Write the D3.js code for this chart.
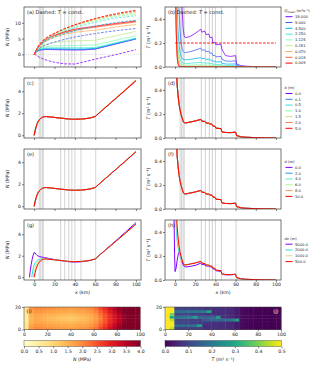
<!DOCTYPE html>
<html><head><meta charset="utf-8">
<script src="https://cdn.jsdelivr.net/npm/d3@7"></script>
<style>body{margin:0;background:#fff}</style>
</head><body><svg id="c" width="320" height="370" xmlns="http://www.w3.org/2000/svg"></svg>
<script>
// ---------------- DATA ----------------
const grayLinesKm = [5, 6.5, 8, 9, 26, 30, 34, 37, 40, 46, 60.5];
const xTicks = [0, 20, 40, 60, 80, 100];
const nTicksA = [0, 5, 10];
const nTicksC = [0, 2, 4];
const tTicks = [0.0, 0.2, 0.4];
const heatYTicks = [0, 20];
const cbTicksN = [0, 0.5, 1, 1.5, 2, 2.5, 3, 3.5, 4];
const cbTicksT = [0, 0.1, 0.2, 0.3, 0.4, 0.5];

// panel (a): N vs x for several Q_mean, solid = full model, dashed = T const
const qLabels = ["18.000","9.000","4.500","2.250","1.125","0.281","0.070","0.018","0.009"];
const aX = [0,2,5,10,15,20,30,40,50,60,70,80,90,100];
const aSolid = [
  [0,0.8,1.3,1.55,1.55,1.5,1.45,1.4,1.45,1.7,2.5,3.3,4.1,4.9],
  [0,0.8,1.4,1.65,1.65,1.6,1.55,1.5,1.55,1.75,2.55,3.35,4.15,4.95],
  [0,0.9,1.5,1.8,1.8,1.8,1.75,1.7,1.75,1.9,2.7,3.5,4.3,5.0],
  [0,0.9,1.7,2.0,2.1,2.1,2.1,2.1,2.1,2.2,2.9,3.7,4.4,5.2],
  [0,1.0,1.9,2.4,2.6,2.7,2.8,2.8,2.9,3.0,3.7,4.5,5.2,5.9],
  [0,1.1,2.2,3.1,3.5,3.8,4.1,4.3,4.4,4.5,5.2,5.9,6.6,7.3],
  [0,1.2,2.6,3.9,4.8,5.5,6.4,7.0,7.4,7.7,8.2,8.7,9.1,9.5],
  [0,1.3,2.8,4.2,5.2,5.9,6.9,7.6,8.2,8.6,9.1,9.5,9.9,10.3],
  [0,1.3,2.9,4.4,5.4,6.1,7.2,8.0,8.5,8.9,9.4,9.8,10.2,10.6]
];
const aDashed = [
  [0,-0.2,-0.9,-1.6,-2.1,-2.5,-3.0,-3.05,-2.3,-1.5,-0.8,-0.1,0.7,1.5],
  [0,1.0,1.9,2.8,3.4,3.9,4.8,5.5,6.1,6.6,7.1,7.5,7.9,8.2],
  [0,1.2,2.6,3.9,4.8,5.5,6.6,7.5,8.3,9.0,9.6,10.1,10.5,10.8],
  [0,1.3,2.9,4.4,5.4,6.2,7.5,8.5,9.4,10.2,10.9,11.5,11.9,12.3],
  [0,1.35,3.0,4.6,5.6,6.4,7.8,8.9,9.9,10.7,11.4,12.0,12.4,12.8],
  [0,1.4,3.0,4.7,5.7,6.5,8.0,9.1,10.1,10.9,11.7,12.3,12.8,13.2],
  [0,1.4,3.1,4.7,5.8,6.6,8.1,9.3,10.3,11.1,11.9,12.6,13.1,13.5],
  [0,1.4,3.1,4.8,5.9,6.7,8.2,9.4,10.4,11.3,12.1,12.7,13.3,13.8],
  [0,1.4,3.1,4.8,5.9,6.7,8.2,9.4,10.5,11.4,12.2,12.9,13.5,14.0]
];

// shared x grid for T and N profiles
const headX = [0,1,2,3,4,5,6,7,8,9,10];
const tailX = [12,15,20,25.5,26.5,29.5,30.5,33.5,34.5,36.5,37.5,39.5,40.5,45.5,46.5,50,55,60,61,65,70,80,90,100];

// panel (b): T vs x for several Q_mean; dashed T const
const tConst = 0.2;
const bT = [
  [2.0,2.0,1.8,1.5,1.2,0.95,0.7,0.47,0.32,0.26,0.245, 0.248,0.255,0.28,0.315,0.29,0.3,0.27,0.275,0.245,0.25,0.2,0.205,0.185,0.19,0.145,0.095,0.088,0.095,0.025,0.012,0.007,0.003,0.001,0],
  [1.5,1.2,0.9,0.65,0.45,0.3,0.2,0.15,0.13,0.122,0.12, 0.122,0.128,0.14,0.157,0.14,0.143,0.128,0.13,0.115,0.117,0.095,0.097,0.085,0.088,0.065,0.05,0.048,0.052,0.012,0.006,0.003,0.001,0,0],
  [1.2,0.8,0.5,0.3,0.18,0.12,0.09,0.072,0.065,0.061,0.06, 0.061,0.064,0.07,0.078,0.07,0.071,0.064,0.065,0.057,0.058,0.047,0.048,0.042,0.044,0.032,0.025,0.024,0.026,0.006,0.003,0.001,0,0,0],
  [0.9,0.55,0.3,0.16,0.09,0.06,0.045,0.036,0.032,0.03,0.03, 0.03,0.032,0.035,0.039,0.035,0.035,0.032,0.032,0.028,0.029,0.023,0.024,0.021,0.022,0.016,0.012,0.012,0.013,0.003,0.001,0,0,0,0],
  [0.8,0.45,0.22,0.1,0.05,0.03,0.022,0.018,0.016,0.015,0.015, 0.015,0.016,0.017,0.019,0.017,0.017,0.016,0.016,0.014,0.014,0.012,0.012,0.01,0.011,0.008,0.006,0.006,0.006,0.002,0.001,0,0,0,0],
  [1.2,0.6,0.25,0.1,0.04,0.02,0.012,0.01,0.009,0.008,0.008, 0.008,0.008,0.008,0.009,0.008,0.008,0.007,0.007,0.006,0.006,0.005,0.005,0.005,0.005,0.004,0.003,0.003,0.003,0.001,0,0,0,0,0],
  [1.1,0.45,0.15,0.05,0.015,0.007,0.005,0.004,0.004,0.003,0.003, 0.003,0.003,0.003,0.003,0.003,0.003,0.003,0.003,0.002,0.002,0.002,0.002,0.002,0.002,0.001,0.001,0.001,0.001,0,0,0,0,0,0],
  [1.0,0.35,0.1,0.03,0.008,0.003,0.002,0.002,0.001,0.001,0.001, 0.001,0.001,0.001,0.001,0.001,0.001,0.001,0.001,0.001,0.001,0,0,0,0,0,0,0,0,0,0,0,0,0,0],
  [1.0,0.3,0.08,0.02,0.005,0.002,0.001,0.001,0.001,0.001,0.001, 0,0,0,0,0,0,0,0,0,0,0,0,0,0,0,0,0,0,0,0,0,0,0,0]
];

// reference profiles (panels c-h)
const nHead = [0,0.45,0.8,1.05,1.25,1.4,1.5,1.58,1.63,1.67,1.69];
const nTail = [1.7,1.67,1.62,1.56,1.55,1.52,1.51,1.48,1.47,1.46,1.455,1.45,1.45,1.47,1.475,1.5,1.57,1.7,1.78,2.12,2.52,3.32,4.13,4.95];
const tHead = [1.5,0.65,0.45,0.35,0.28,0.23,0.195,0.165,0.14,0.128,0.125];
const tTail = [0.128,0.133,0.142,0.155,0.14,0.138,0.126,0.123,0.117,0.115,0.1,0.097,0.082,0.078,0.05,0.046,0.045,0.048,0.02,0.011,0.006,0.003,0.001,0];

// panel (c)/(d): b (m); panel (e)/(f): d (m) -- curves coincide
const bLabels = ["0.0","0.1","0.5","1.0","1.5","2.0","5.0"];
const dLabels = ["0.0","2.0","4.0","6.0","8.0","10.0"];
const nTailB2 = [1.7,1.67,1.62,1.56,1.55,1.52,1.51,1.48,1.47,1.46,1.455,1.45,1.45,1.47,1.475,1.5,1.57,1.7,1.79,2.14,2.55,3.36,4.18,5.02];

// panel (g)/(h): dx (m)
const dxLabels = ["5000.0","2000.0","1000.0","500.0"];
const gPurpleHeadX = [-4.6,-4,-3,-2,-1,0,1,2,3,5,7,9,10];
const gPurpleHeadN = [0,0.5,1.15,1.65,2.05,2.3,2.25,2.12,2.02,1.93,1.88,1.85,1.83];
const gPurpleTailN = [1.8,1.74,1.64,1.56,1.55,1.5,1.49,1.45,1.44,1.42,1.415,1.41,1.41,1.43,1.44,1.48,1.56,1.7,1.78,2.13,2.55,3.38,4.22,5.08];
const gCyanHeadX = [-2.3,-2,-1,0,1,2,3,4,5,6,7,8,9,10];
const gCyanHeadN = [0,0.25,0.8,1.15,1.35,1.48,1.56,1.62,1.66,1.68,1.7,1.71,1.71,1.71];
const gYellowHeadX = [-1,0,1,2,3,4,5,6,7,8,9,10];
const gYellowHeadN = [0,0.55,0.9,1.15,1.33,1.46,1.55,1.61,1.65,1.68,1.69,1.7];
const hPurpleHeadX = [-4.6,-3,-2,-1,-0.5,0,1,2,3,4,5,6,7,8,9,10];
const hPurpleHeadT = [3.0,1.6,1.1,0.5,0.22,0.07,0.1,0.16,0.21,0.235,0.22,0.18,0.15,0.125,0.115,0.11];
const hPurpleTailT = [0.11,0.113,0.122,0.14,0.128,0.128,0.117,0.116,0.11,0.108,0.093,0.09,0.077,0.072,0.047,0.043,0.043,0.047,0.02,0.011,0.006,0.003,0.001,0];
const hCyanHeadX = [-2.3,-1,0,1,2,3,4,5,6,7,8,9,10];
const hCyanHeadT = [3.0,1.2,0.7,0.45,0.33,0.27,0.23,0.2,0.175,0.155,0.14,0.13,0.126];
const hYellowHeadX = [-1,0,1,2,3,4,5,6,7,8,9,10];
const hYellowHeadT = [2.5,1.0,0.55,0.4,0.31,0.26,0.22,0.19,0.165,0.145,0.13,0.126];

// panel (i): N field (MPa); rows bottom (y=0) to top (y=20), columns x = 2..98 km
const heatXc = [2,6,10,14,18,22,26,30,34,38,42,46,50,54,58,62,66,70,74,78,82,86,90,94,98];
const heatYc = [1.25,3.75,6.25,8.75,11.25,13.75,16.25,18.75];
const nField = [
  [0.7,1.85,2.0,1.98,1.92,1.88,1.85,1.8,1.77,1.75,1.75,1.8,1.85,1.9,2.0,2.2,2.55,2.85,3.2,3.5,3.85,4.15,4.5,4.8,5.1],
  [0.65,1.7,1.85,1.83,1.77,1.73,1.7,1.65,1.62,1.6,1.6,1.65,1.7,1.75,1.85,2.05,2.4,2.7,3.05,3.35,3.7,4.0,4.35,4.65,5.0],
  [0.6,1.55,1.7,1.68,1.62,1.58,1.55,1.5,1.47,1.45,1.45,1.5,1.55,1.6,1.7,1.9,2.25,2.55,2.9,3.2,3.55,3.85,4.2,4.5,4.85],
  [0.55,1.5,1.65,1.6,1.52,1.45,1.38,1.32,1.28,1.25,1.25,1.3,1.38,1.45,1.58,1.8,2.15,2.5,2.85,3.15,3.5,3.8,4.15,4.45,4.8],
  [0.55,1.5,1.65,1.6,1.52,1.45,1.38,1.32,1.28,1.25,1.25,1.3,1.38,1.45,1.58,1.8,2.15,2.5,2.85,3.15,3.5,3.8,4.15,4.45,4.8],
  [0.6,1.55,1.7,1.68,1.62,1.58,1.55,1.5,1.47,1.45,1.45,1.5,1.55,1.6,1.7,1.9,2.25,2.55,2.9,3.2,3.55,3.85,4.2,4.5,4.85],
  [0.65,1.7,1.85,1.83,1.77,1.73,1.7,1.65,1.62,1.6,1.6,1.65,1.7,1.75,1.85,2.05,2.4,2.7,3.05,3.35,3.7,4.0,4.35,4.65,5.0],
  [0.7,1.85,2.0,1.98,1.92,1.88,1.85,1.8,1.77,1.75,1.75,1.8,1.85,1.9,2.0,2.2,2.55,2.85,3.2,3.5,3.85,4.15,4.5,4.8,5.1]
];
// panel (j): T field (m2/s)
const tField = [
  [0.5,0.45,0.09,0.09,0.09,0.09,0.09,0.08,0.07,0.07,0.07,0.065,0.065,0.06,0.055,0.035,0.015,0.008,0.005,0.003,0.002,0.001,0,0,0],
  [0.5,0.5,0.18,0.17,0.17,0.18,0.19,0.29,0.07,0.07,0.07,0.065,0.065,0.06,0.055,0.035,0.015,0.008,0.005,0.003,0.002,0.001,0,0,0],
  [0.5,0.5,0.1,0.1,0.1,0.09,0.09,0.085,0.08,0.075,0.07,0.07,0.065,0.06,0.055,0.035,0.015,0.008,0.005,0.003,0.002,0.001,0,0,0],
  [0.5,0.45,0.1,0.1,0.1,0.09,0.09,0.09,0.13,0.15,0.16,0.16,0.17,0.18,0.2,0.29,0.015,0.008,0.005,0.003,0.002,0.001,0,0,0],
  [0.5,0.3,0.18,0.19,0.2,0.21,0.28,0.16,0.15,0.15,0.16,0.27,0.065,0.06,0.055,0.035,0.015,0.008,0.005,0.003,0.002,0.001,0,0,0],
  [0.5,0.4,0.1,0.1,0.1,0.09,0.09,0.085,0.08,0.075,0.07,0.07,0.065,0.06,0.055,0.035,0.015,0.008,0.005,0.003,0.002,0.001,0,0,0],
  [0.5,0.5,0.18,0.18,0.19,0.19,0.2,0.2,0.21,0.3,0.07,0.065,0.065,0.06,0.055,0.035,0.015,0.008,0.005,0.003,0.002,0.001,0,0,0],
  [0.5,0.5,0.1,0.1,0.1,0.09,0.09,0.085,0.08,0.075,0.07,0.07,0.065,0.06,0.055,0.035,0.015,0.008,0.005,0.003,0.002,0.001,0,0,0]
];

// ---------------- STYLE ----------------
const FONT = "DejaVu Sans, sans-serif";
const qColors = ["#8000ff","#4062fa","#00b5eb","#40ecd4","#80ffb4","#c0eb8d","#ffb462","#ff6232","#ff0000"];
const bColors = ["#8000ff","#2a80f6","#2adddd","#80ffb4","#d4dd80","#ff8042","#ff0000"];
const dColors = ["#8000ff","#1996f3","#4df3ce","#b3f396","#ff964f","#ff0000"];
const dxColors = ["#8000ff","#2adddd","#d4dd80","#ff0000"];
const LX0 = 24, LX1 = 141, RX0 = 165, RX1 = 281, H = 60;
const tops = [7, 78, 149, 220];
const xDom = [-10, 105];

const svg = d3.select("#c");
const defs = svg.append("defs");
const pts = (x, y) => x.map((v, i) => [v, y[i]]);

function makePanel(id, x0, x1, top, ydom) {
  const y0 = top, y1 = top + H;
  const xs = d3.scaleLinear().domain(xDom).range([x0, x1]);
  const ys = d3.scaleLinear().domain(ydom).range([y1, y0]);
  defs.append("clipPath").attr("id", id).append("rect")
    .attr("x", x0).attr("y", y0).attr("width", x1 - x0).attr("height", y1 - y0);
  const plot = svg.append("g").attr("clip-path", `url(#${id})`);
  plot.selectAll("line.g").data(grayLinesKm).join("line")
    .attr("x1", d => xs(d)).attr("x2", d => xs(d)).attr("y1", y0).attr("y2", y1)
    .attr("stroke", "#d6d6d6").attr("stroke-width", 1.1);
  return {xs, ys, plot, x0, x1, y0, y1};
}
function styleAxis(a) {
  a.attr("font-size", 4.6).attr("font-family", FONT);
  a.select(".domain").remove();
  a.selectAll("line").attr("stroke", "#333").attr("stroke-width", 0.6);
  a.selectAll("text").attr("fill", "#222");
}
function finish(P, yticks, yfmt, xlab) {
  svg.append("rect").attr("x", P.x0).attr("y", P.y0).attr("width", P.x1 - P.x0).attr("height", P.y1 - P.y0)
    .attr("fill", "none").attr("stroke", "#3a3a3a").attr("stroke-width", 0.7);
  const ax = svg.append("g").attr("transform", `translate(0,${P.y1})`)
    .call(d3.axisBottom(P.xs).tickValues(xTicks).tickSize(2).tickPadding(1.2).tickFormat(xlab ? d3.format("d") : () => ""));
  styleAxis(ax);
  const ay = svg.append("g").attr("transform", `translate(${P.x0},0)`)
    .call(d3.axisLeft(P.ys).tickValues(yticks).tickSize(2).tickPadding(1.2).tickFormat(yfmt));
  styleAxis(ay);
}
function drawLine(P, data, color, width, dash, op) {
  P.plot.append("path").datum(data)
    .attr("d", d3.line().x(d => P.xs(d[0])).y(d => P.ys(d[1])))
    .attr("fill", "none").attr("stroke", color).attr("stroke-width", width)
    .attr("stroke-dasharray", dash || null).attr("stroke-opacity", op == null ? 1 : op)
    .attr("stroke-linejoin", "round");
}
function panelText(P, parts, x) {
  const t = svg.append("text").attr("x", x).attr("y", P.y0 + 7.3).attr("font-size", 5).attr("font-family", FONT).attr("fill", "#222");
  parts.forEach(p => t.append("tspan").text(p[0]).attr("font-style", p[1] ? "italic" : null));
}
function yLabel(P, isT) {
  const cx = isT ? 149.5 : 9.2;
  const t = svg.append("text").attr("transform", `translate(${cx},${(P.y0 + P.y1) / 2}) rotate(-90)`)
    .attr("text-anchor", "middle").attr("font-size", 4.7).attr("font-family", FONT).attr("fill", "#222");
  if (isT) {
    t.append("tspan").text("T").attr("font-style", "italic");
    t.append("tspan").text(" (m² s⁻¹)");
  } else {
    t.append("tspan").text("N").attr("font-style", "italic");
    t.append("tspan").text(" (MPa)");
  }
}
function legend(P, title, labels, colors, titleParts) {
  const step = 5.8;
  const n = labels.length + 1;
  const cy = (P.y0 + P.y1) / 2;
  const first = cy - (n - 1) * step / 2;
  const g = svg.append("g").attr("font-family", FONT).attr("font-size", 3.7).attr("fill", "#222");
  const tt = g.append("text").attr("x", 284.5).attr("y", first + 1.3);
  titleParts.forEach(p => {
    const s = tt.append("tspan").text(p[0]);
    if (p[1] === "i") s.attr("font-style", "italic");
    if (p[1] === "sub") s.attr("font-size", 2.8).attr("dy", 0.8);
    if (p[1] === "back") s.attr("dy", -0.8);
  });
  labels.forEach((lab, i) => {
    const y = first + (i + 1) * step;
    g.append("line").attr("x1", 285.5).attr("x2", 292.5).attr("y1", y).attr("y2", y)
      .attr("stroke", colors[i]).attr("stroke-width", 1);
    g.append("text").attr("x", 295).attr("y", y + 1.3).text(lab);
  });
}

// ---------- (a) ----------
const pa = makePanel("ca", LX0, LX1, tops[0], [-4, 15.05]);
pa.plot.append("line").attr("x1", LX0).attr("x2", LX1).attr("y1", pa.ys(0)).attr("y2", pa.ys(0))
  .attr("stroke", "#bbb").attr("stroke-width", 0.6).attr("stroke-dasharray", "0.8,1.2");
aSolid.forEach((s, i) => drawLine(pa, pts(aX, s), qColors[i], 0.9, null, 0.85));
aDashed.forEach((s, i) => drawLine(pa, pts(aX, s), qColors[i], 0.9, "2.6,1.4", 0.85));
finish(pa, nTicksA, d3.format("d"), false);
panelText(pa, [["(a) Dashed: "], ["T", true], [" = const."]], LX0 + 3);
yLabel(pa, false);

// ---------- (b) ----------
const baseX = headX.concat(tailX);
const pb = makePanel("cb", RX0, RX1, tops[0], [0, 0.5]);
bT.forEach((s, i) => drawLine(pb, pts(baseX, s), qColors[i], 0.9, null, 0.85));
drawLine(pb, pts([0, 100], [tConst, tConst]), "#ff0000", 1, "2.6,1.4", 0.9);
finish(pb, tTicks, d3.format(".1f"), false);
panelText(pb, [["(b) Dashed: "], ["T", true], [" = const."]], RX0 + 3);
yLabel(pb, true);
legend(pb, "", qLabels, qColors, [["Q", "i"], ["mean", "sub"], [" (m³s⁻¹)", "back"]]);

// ---------- (c) / (d) ----------
const nBase = nHead.concat(nTail);
const tBase = tHead.concat(tTail);
const pc = makePanel("cc", LX0, LX1, tops[1], [-0.25, 5.2]);
bLabels.forEach((l, i) => drawLine(pc, pts(baseX, i === 5 ? nHead.concat(nTailB2) : nBase), bColors[i], 1, null, 1));
finish(pc, nTicksC, d3.format("d"), false);
panelText(pc, [["(c)"]], LX0 + 3);
yLabel(pc, false);

const pd = makePanel("cd", RX0, RX1, tops[1], [0, 0.5]);
bLabels.forEach((l, i) => drawLine(pd, pts(baseX, tBase), bColors[i], 1, null, 1));
finish(pd, tTicks, d3.format(".1f"), false);
panelText(pd, [["(d)"]], RX0 + 3);
yLabel(pd, true);
legend(pd, "", bLabels, bColors, [["b", "i"], [" (m)"]]);

// ---------- (e) / (f) ----------
const pe = makePanel("ce", LX0, LX1, tops[2], [-0.25, 5.2]);
dLabels.forEach((l, i) => drawLine(pe, pts(baseX, nBase), dColors[i], 1, null, 1));
finish(pe, nTicksC, d3.format("d"), false);
panelText(pe, [["(e)"]], LX0 + 3);
yLabel(pe, false);

const pf = makePanel("cf", RX0, RX1, tops[2], [0, 0.5]);
dLabels.forEach((l, i) => drawLine(pf, pts(baseX, tBase), dColors[i], 1, null, 1));
finish(pf, tTicks, d3.format(".1f"), false);
panelText(pf, [["(f)"]], RX0 + 3);
yLabel(pf, true);
legend(pf, "", dLabels, dColors, [["d", "i"], [" (m)"]]);

// ---------- (g) / (h) ----------
const pg = makePanel("cg", LX0, LX1, tops[3], [-0.26, 5.33]);
const gSeries = [
  pts(gPurpleHeadX.concat(tailX), gPurpleHeadN.concat(gPurpleTailN)),
  pts(gCyanHeadX.concat(tailX), gCyanHeadN.concat(nTail)),
  pts(gYellowHeadX.concat(tailX), gYellowHeadN.concat(nTail)),
  pts(baseX, nBase)
];
gSeries.forEach((s, i) => drawLine(pg, s, dxColors[i], 1, null, 1));
finish(pg, nTicksC, d3.format("d"), true);
panelText(pg, [["(g)"]], LX0 + 3);
yLabel(pg, false);

const ph = makePanel("ch", RX0, RX1, tops[3], [0, 0.5]);
const hSeries = [
  pts(hPurpleHeadX.concat(tailX), hPurpleHeadT.concat(hPurpleTailT)),
  pts(hCyanHeadX.concat(tailX), hCyanHeadT.concat(tTail)),
  pts(hYellowHeadX.concat(tailX), hYellowHeadT.concat(tTail)),
  pts(baseX, tBase)
];
hSeries.forEach((s, i) => drawLine(ph, s, dxColors[i], 1, null, 1));
finish(ph, tTicks, d3.format(".1f"), true);
panelText(ph, [["(h)"]], RX0 + 3);
yLabel(ph, true);
legend(ph, "", dxLabels, dxColors, [["dx", "i"], [" (m)"]]);

// x labels
[[(LX0 + LX1) / 2], [(RX0 + RX1) / 2]].forEach(c => {
  const t = svg.append("text").attr("x", c[0]).attr("y", 293.5).attr("text-anchor", "middle")
    .attr("font-size", 4.7).attr("font-family", FONT).attr("fill", "#222");
  t.append("tspan").text("x").attr("font-style", "italic");
  t.append("tspan").text(" (km)");
});

// ---------- (i) / (j) heatmaps ----------
function heat(id, x0, x1, grid, cscale, cbTicks, cbFmt, labelParts, tag, tagX, tagColor, tagAnchor) {
  const y0 = 307, y1 = 329.5;
  const xs = d3.scaleLinear().domain([0, 100]).range([x0, x1]);
  const ys = d3.scaleLinear().domain([0, 20]).range([y1, y0]);
  const cw = xs(heatXc[1]) - xs(heatXc[0]);
  const ch = ys(heatYc[0]) - ys(heatYc[1]);
  const g = svg.append("g");
  grid.forEach((row, r) => row.forEach((v, c) => {
    g.append("rect").attr("x", xs(heatXc[c]) - cw / 2).attr("y", ys(heatYc[r]) - ch / 2)
      .attr("width", cw + 0.4).attr("height", ch + 0.4).attr("fill", cscale(v));
  }));
  svg.append("rect").attr("x", x0).attr("y", y0).attr("width", x1 - x0).attr("height", y1 - y0)
    .attr("fill", "none").attr("stroke", "#3a3a3a").attr("stroke-width", 0.5);
  const ax = svg.append("g").attr("transform", `translate(0,${y1})`)
    .call(d3.axisBottom(xs).tickValues(xTicks).tickSize(2).tickPadding(1.2).tickFormat(d3.format("d")));
  styleAxis(ax);
  const ay = svg.append("g").attr("transform", `translate(${x0},0)`)
    .call(d3.axisLeft(ys).tickValues(heatYTicks).tickSize(2).tickPadding(1.2).tickFormat(d3.format("d")));
  styleAxis(ay);
  svg.append("text").attr("x", tagX).attr("y", y0 + 5.6).attr("text-anchor", tagAnchor)
    .attr("font-size", 5).attr("font-family", FONT).attr("fill", tagColor).text(tag);
  // colorbar
  const cy0 = 340.5, cy1 = 346.5;
  const cs = d3.scaleLinear().domain(cscale.domain()).range([x0, x1 + 0.5]);
  const grad = defs.append("linearGradient").attr("id", id).attr("x1", "0%").attr("x2", "100%");
  d3.range(0, 1.0001, 0.05).forEach(f => {
    const v = cscale.domain()[0] + f * (cscale.domain()[1] - cscale.domain()[0]);
    grad.append("stop").attr("offset", (f * 100) + "%").attr("stop-color", cscale(v));
  });
  svg.append("rect").attr("x", x0).attr("y", cy0).attr("width", x1 + 0.5 - x0).attr("height", cy1 - cy0)
    .attr("fill", `url(#${id})`).attr("stroke", "#3a3a3a").attr("stroke-width", 0.4);
  const cb = svg.append("g").attr("transform", `translate(0,${cy1})`)
    .call(d3.axisBottom(cs).tickValues(cbTicks).tickSize(1.8).tickPadding(1.2).tickFormat(cbFmt));
  styleAxis(cb);
  const t = svg.append("text").attr("x", (x0 + x1) / 2).attr("y", 360.5).attr("text-anchor", "middle")
    .attr("font-size", 4.7).attr("font-family", FONT).attr("fill", "#222");
  labelParts.forEach(p => t.append("tspan").text(p[0]).attr("font-style", p[1] ? "italic" : null));
}
const nColor = d3.scaleSequential(d3.interpolateYlOrRd).domain([0, 4]).clamp(true);
const tColor = d3.scaleSequential(d3.interpolateViridis).domain([0, 0.5]).clamp(true);
heat("gi", LX0, LX1 - 1, nField, nColor, cbTicksN, d3.format(".1f"), [["N", true], [" (MPa)"]], "(i)", LX0 + 2.5, "#222", "start");
heat("gj", RX0, RX1, tField, tColor, cbTicksT, d3.format(".1f"), [["T", true], [" (m² s⁻¹)"]], "(j)", RX1 - 2.5, "#fff", "end");
</script>
</body></html>
